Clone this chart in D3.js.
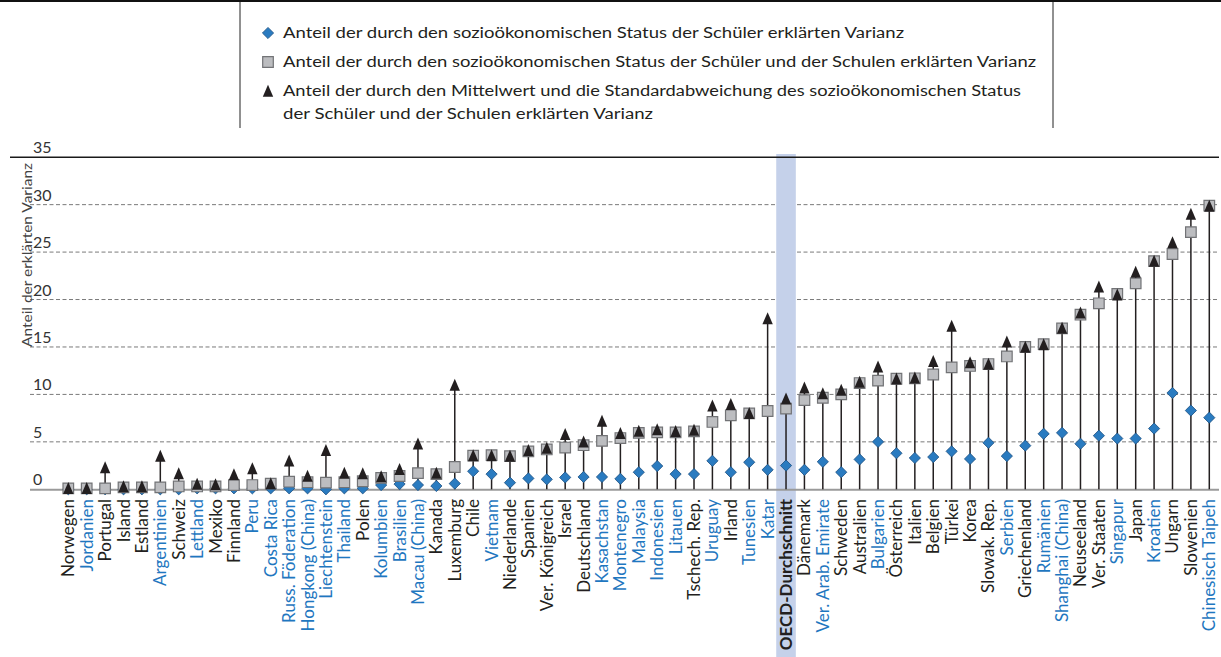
<!DOCTYPE html>
<html>
<head>
<meta charset="utf-8">
<script src="https://cdn.jsdelivr.net/npm/d3@7/dist/d3.min.js"></script>
<style>
  html, body { margin: 0; padding: 0; background: #fff; }
  svg { display: block; font-family: Lato, "Open Sans", sans-serif; }
</style>
</head>
<body>
<svg id="chart" width="1221" height="657"></svg>
<script>
// Countries / economies, ordered by explained variance
const countries = [
  "Norwegen","Jordanien","Portugal","Island","Estland","Argentinien","Schweiz","Lettland","Mexiko","Finnland",
  "Peru","Costa Rica","Russ. Föderation","Hongkong (China)","Liechtenstein","Thailand","Polen","Kolumbien","Brasilien","Macau (China)",
  "Kanada","Luxemburg","Chile","Vietnam","Niederlande","Spanien","Ver. Königreich","Israel","Deutschland","Kasachstan",
  "Montenegro","Malaysia","Indonesien","Litauen","Tschech. Rep.","Uruguay","Irland","Tunesien","Katar","OECD-Durchschnitt",
  "Dänemark","Ver. Arab. Emirate","Schweden","Australien","Bulgarien","Österreich","Italien","Belgien","Türkei","Korea",
  "Slowak. Rep.","Serbien","Griechenland","Rumänien","Shanghai (China)","Neuseeland","Ver. Staaten","Singapur","Japan","Kroatien",
  "Ungarn","Slowenien","Chinesisch Taipeh"
];

// Partner economies (labelled in blue)
const partners = [
  "Jordanien","Argentinien","Lettland","Peru","Costa Rica","Russ. Föderation","Hongkong (China)","Liechtenstein","Thailand",
  "Kolumbien","Brasilien","Macau (China)","Vietnam","Kasachstan","Montenegro","Malaysia","Indonesien","Litauen","Uruguay",
  "Tunesien","Katar","Ver. Arab. Emirate","Bulgarien","Serbien","Rumänien","Shanghai (China)","Singapur","Kroatien","Chinesisch Taipeh"
];

const averageLabel = "OECD-Durchschnitt";

// Share of variance explained by students' socio-economic status
const studentSES = [
  0.0,0.0,0.0,0.0,0.0,0.0,0.0,0.1,0.1,0.1,
  0.1,0.1,0.1,0.1,0.0,0.1,0.1,0.45,0.55,0.45,
  0.35,0.6,1.9,1.6,0.7,1.15,1.05,1.25,1.3,1.3,
  1.1,1.8,2.45,1.6,1.6,3.0,1.8,2.85,2.05,2.5,
  2.05,2.9,1.8,3.15,5.0,3.8,3.3,3.4,4.0,3.2,
  4.9,3.5,4.6,5.85,5.95,4.8,5.65,5.35,5.35,6.4,
  10.15,8.3,7.55
];

// Share explained by students' and schools' socio-economic status
const studentSchoolSES = [
  0.1,0.1,0.1,0.2,0.2,0.2,0.3,0.3,0.3,0.45,
  0.45,0.6,0.8,0.75,0.7,0.75,0.85,1.2,1.4,1.7,
  1.6,2.35,3.55,3.6,3.5,4.0,4.2,4.4,4.65,5.1,
  5.4,5.95,6.0,6.0,6.1,7.1,7.8,8.0,8.25,8.5,
  9.4,9.65,10.0,11.2,11.45,11.65,11.7,12.1,12.85,13.0,
  13.2,14.0,15.0,15.3,16.95,18.4,19.6,20.6,21.7,24.05,
  24.8,27.1,29.9
];

// Share explained by mean and standard deviation of students' and schools' SES
const meanAndSD = [
  0.1,0.1,2.3,0.3,0.3,3.5,1.65,0.55,0.5,1.55,
  2.2,0.6,3.0,1.4,4.1,1.7,1.65,1.35,2.1,4.8,
  1.7,11.0,3.55,3.55,3.5,4.1,4.35,5.8,5.0,7.2,
  5.9,6.15,6.3,6.1,6.25,8.8,8.95,8.0,18.0,9.55,
  10.7,10.1,10.45,11.3,12.9,11.65,11.75,13.5,17.2,13.35,
  13.2,15.55,15.0,15.25,17.0,18.6,21.35,20.5,22.9,24.05,
  26.0,29.0,29.85
];

const yTicks = [0, 5, 10, 15, 20, 25, 30, 35];
const yTitle = "Anteil der erklärten Varianz";

const legendItems = [
  { shape: "diamond",  lines: ["Anteil der durch den sozioökonomischen Status der Schüler erklärten Varianz"] },
  { shape: "square",   lines: ["Anteil der durch den sozioökonomischen Status der Schüler und der Schulen erklärten Varianz"] },
  { shape: "triangle", lines: ["Anteil der durch den Mittelwert und die Standardabweichung des sozioökonomischen Status",
                               "der Schüler und der Schulen erklärten Varianz"] }
];

// ---------------------------------------------------------------------------
const svg = d3.select("#chart");
const W = 1221, H = 657;

const colors = {
  blue: "#2a7bc0",
  blueStroke: "#1c4f80",
  squareFill: "#bcbdc0",
  squareStroke: "#727376",
  dark: "#231f20",
  band: "#c5d1ea",
  blueText: "#1f77c0",
  grid: "#7a7a7a",
  base: "#9a9a9a"
};

const rows = countries.map((c, i) => ({
  name: c, s: studentSES[i], q: studentSchoolSES[i], t: meanAndSD[i]
}));

const x = d3.scaleBand().domain(countries).range([59.1, 1218.5]).padding(0);
const y = d3.scaleLinear().domain([0, 35]).range([489.3, 157.2]);
const cx = d => x(d) + x.bandwidth() / 2;

// marker paths, centred on (0,0)
const diamondPath = "M0,-5.6L5.6,0L0,5.6L-5.6,0Z";
const squarePath  = "M-5.3,-5.3H5.3V5.3H-5.3Z";
const trianglePath = "M0,-6.3L5.2,5.7L-5.2,5.7Z";

// ---- legend frame ----------------------------------------------------------
svg.append("rect").attr("x", 0).attr("y", 0).attr("width", W).attr("height", 2).attr("fill", "#111");
[240, 1053].forEach(lx => {
  svg.append("line").attr("x1", lx).attr("x2", lx).attr("y1", 2).attr("y2", 128)
    .attr("stroke", "#222").attr("stroke-width", 1);
});

const legend = svg.append("g");
const legendRowsY = [33, 62, 91];
const legendWidths = [[621], [753], [738, 370]];
legendItems.forEach((item, i) => {
  const ly = legendRowsY[i];
  const g = legend.append("g");
  if (item.shape === "diamond") {
    g.append("path").attr("d", diamondPath).attr("transform", `translate(268,${ly})`)
      .attr("fill", colors.blue).attr("stroke", colors.blueStroke).attr("stroke-width", 0.8);
  } else if (item.shape === "square") {
    g.append("path").attr("d", squarePath).attr("transform", `translate(268,${ly})`)
      .attr("fill", colors.squareFill).attr("stroke", colors.squareStroke).attr("stroke-width", 1.2);
  } else {
    g.append("path").attr("d", trianglePath).attr("transform", `translate(268,${ly})`)
      .attr("fill", colors.dark);
  }
  item.lines.forEach((ln, j) => {
    g.append("text").attr("x", 283).attr("y", ly + 5 + j * 23)
      .attr("font-size", 15.5).attr("fill", "#231f20")
      .attr("textLength", legendWidths[i][j]).attr("lengthAdjust", "spacingAndGlyphs")
      .text(ln);
  });
});

// ---- grid ------------------------------------------------------------------
const grid = svg.append("g");
yTicks.filter(v => v > 0 && v < 35).forEach(v => {
  grid.append("line").attr("x1", 30).attr("x2", 1219).attr("y1", y(v)).attr("y2", y(v))
    .attr("stroke", colors.grid).attr("stroke-width", 1).attr("stroke-dasharray", "4,2.5");
});

// highlighted OECD average band
svg.append("rect")
  .attr("x", cx(averageLabel) - 9.8).attr("width", 19.6)
  .attr("y", 154).attr("height", H - 154)
  .attr("fill", colors.band);

// top rule at 35 and baseline at 0
svg.append("line").attr("x1", 10).attr("x2", 1219).attr("y1", y(35)).attr("y2", y(35))
  .attr("stroke", "#1a1a1a").attr("stroke-width", 1.4);
svg.append("line").attr("x1", 30).attr("x2", 1219).attr("y1", y(0) + 0.5).attr("y2", y(0) + 0.5)
  .attr("stroke", colors.base).attr("stroke-width", 2);

// tick labels sit above their grid lines
svg.append("g").selectAll("text").data(yTicks).join("text")
  .attr("x", 33).attr("y", d => y(d) - 4)
  .attr("font-size", 16).attr("fill", "#333")
  .text(d => d);

// axis title
svg.append("text")
  .attr("transform", "translate(31.5,255) rotate(-90)")
  .attr("text-anchor", "middle")
  .attr("font-size", 14).attr("fill", "#444")
  .attr("textLength", 184).attr("lengthAdjust", "spacingAndGlyphs")
  .text(yTitle);

// ---- stems & markers -------------------------------------------------------
const marks = svg.append("g");
marks.selectAll("line.stem").data(rows).join("line")
  .attr("class", "stem")
  .attr("x1", d => cx(d.name)).attr("x2", d => cx(d.name))
  .attr("y1", y(0)).attr("y2", d => y(Math.max(d.s, d.q, d.t)))
  .attr("stroke", colors.dark).attr("stroke-width", 1.5);

marks.selectAll("path.dia").data(rows).join("path")
  .attr("class", "dia").attr("d", diamondPath)
  .attr("transform", d => `translate(${cx(d.name)},${y(d.s)})`)
  .attr("fill", colors.blue).attr("stroke", colors.blueStroke).attr("stroke-width", 0.8);

marks.selectAll("path.sq").data(rows).join("path")
  .attr("class", "sq").attr("d", squarePath)
  .attr("transform", d => `translate(${cx(d.name)},${y(d.q)})`)
  .attr("fill", colors.squareFill).attr("stroke", colors.squareStroke).attr("stroke-width", 1.2);

marks.selectAll("path.tri").data(rows).join("path")
  .attr("class", "tri").attr("d", trianglePath)
  .attr("transform", d => `translate(${cx(d.name)},${y(d.t)})`)
  .attr("fill", colors.dark);

// ---- category labels -------------------------------------------------------
svg.append("g").selectAll("text").data(countries).join("text")
  .attr("transform", d => `translate(${cx(d) + 6},499) rotate(-90)`)
  .attr("text-anchor", "end")
  .attr("font-size", 17)
  .attr("font-weight", d => d === averageLabel ? 700 : 400)
  .attr("fill", d => partners.includes(d) ? colors.blueText : "#231f20")
  .text(d => d);
</script>
</body>
</html>
